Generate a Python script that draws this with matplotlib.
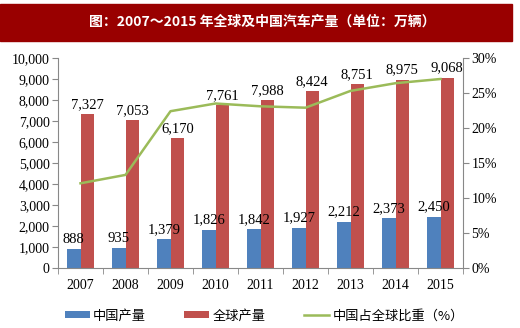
import matplotlib.pyplot as plt
import matplotlib.patches as mpatches
import numpy as np

years = ["2007", "2008", "2009", "2010", "2011", "2012", "2013", "2014", "2015"]
china = [888, 935, 1379, 1826, 1842, 1927, 2212, 2373, 2450]
world = [7327, 7053, 6170, 7761, 7988, 8424, 8751, 8975, 9068]
share = [12.1, 13.3, 22.4, 23.5, 23.1, 22.9, 25.3, 26.4, 27.0]

blue = "#4F81BD"
red = "#C0504D"
green = "#9BBB59"
serif = ["Liberation Serif", "DejaVu Serif"]
cjk = ["Noto Sans CJK SC", "DejaVu Sans"]

fig = plt.figure(figsize=(5.2, 3.28), dpi=100)

# title banner
fig.patches.append(mpatches.Rectangle((0, 1 - 41 / 328), 512 / 520, 37 / 328,
                                      transform=fig.transFigure, color="#990000", zorder=0))
fig.text(0.505, 1 - 22 / 328, "图：2007～2015 年全球及中国汽车产量（单位：万辆）",
         ha="center", va="center", color="white", fontsize=10, fontweight="bold", family=cjk)

ax = fig.add_axes([58 / 520, 60 / 328, 405 / 520, 210 / 328])
x = np.arange(len(years))
w = 0.3
b1 = ax.bar(x - w / 2, china, w, color=blue, label="中国产量")
b2 = ax.bar(x + w / 2, world, w, color=red, label="全球产量")

for xi, v in zip(x, china):
    ax.text(xi - w / 2, v + 150, f"{v:,}", ha="center", va="bottom", fontsize=10.5, family=serif)
for xi, v in zip(x, world):
    ax.text(xi + w / 2, v + 150, f"{v:,}", ha="center", va="bottom", fontsize=10.5, family=serif)

ax.set_xlim(-0.5, len(years) - 0.5)
ax.set_ylim(0, 10000)
ax.set_yticks(range(0, 10001, 1000))
ax.set_yticklabels([f"{t:,}" for t in range(0, 10001, 1000)], family=serif, fontsize=10)
ax.set_xticks(x)
ax.set_xticklabels(years, family=serif, fontsize=10)
ax.set_xticks(np.arange(-0.5, len(years)), minor=True)
ax.tick_params(axis="x", which="major", length=0, pad=8)
ax.tick_params(axis="x", which="minor", length=4, color="#888888")
ax.tick_params(axis="y", length=4, color="#888888", pad=2)
for s in ["top", "right"]:
    ax.spines[s].set_visible(False)
for s in ["left", "bottom"]:
    ax.spines[s].set_color("#888888")

ax2 = ax.twinx()
l1, = ax2.plot(x, share, color=green, lw=1.8, label="中国占全球比重（%）")
ax2.set_ylim(0, 30)
ax2.set_yticks(range(0, 31, 5))
ax2.set_yticklabels([f"{t}%" for t in range(0, 31, 5)], family=serif, fontsize=10)
ax2.tick_params(axis="y", length=4, color="#888888", pad=2)
for s in ["top", "left", "bottom"]:
    ax2.spines[s].set_visible(False)
ax2.spines["right"].set_color("#888888")

fig.legend([b1, b2, l1], ["中国产量", "全球产量", "中国占全球比重（%）"],
           loc="center", bbox_to_anchor=(0.508, 1 - 316 / 328), ncol=3, frameon=False,
           prop={"family": cjk, "size": 9.5}, handlelength=1.9, handleheight=0.45,
           columnspacing=2.9, handletextpad=0.25)

fig.savefig("out.png", dpi=100)
